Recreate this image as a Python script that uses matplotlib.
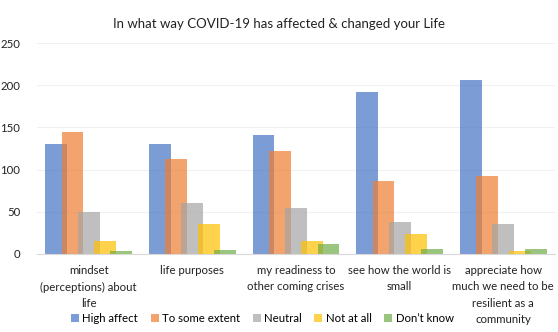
import numpy as np
import matplotlib
matplotlib.use('Agg')
import matplotlib.pyplot as plt

plt.rcParams['font.family'] = ['Lato', 'DejaVu Sans']

categories = ['mindset\n(perceptions) about\nlife', 'life purposes',
              'my readiness to\nother coming crises', 'see how the world is\nsmall',
              'appreciate how\nmuch we need to be\nresilient as a\ncommunity']
series = ['High affect', 'To some extent', 'Neutral', 'Not at all', 'Don\u2019t know']
high_affect = [131, 130, 141, 192, 206]
some_extent = [145, 113, 122, 86, 93]
neutral = [50, 61, 54, 38, 36]
not_at_all = [15, 36, 15, 24, 3]
dont_know = [3, 5, 12, 6, 6]
values = [high_affect, some_extent, neutral, not_at_all, dont_know]
colors = ['#4472C4', '#ED7D31', '#A5A5A5', '#FFC000', '#70AD47']

fig = plt.figure(figsize=(5.58, 3.32), dpi=100)
ax = fig.add_axes([0.066, 0.235, 0.929, 0.635])

x = np.arange(len(categories))
step = 0.157
width = 0.21
for i, (name, vals, c) in enumerate(zip(series, values, colors)):
    ax.bar(x + (i - 2) * step, vals, width, color=c, alpha=0.7, label=name, zorder=2)

ax.set_xlim(-0.5, len(categories) - 0.5)
ax.set_ylim(0, 250)
ax.set_yticks(np.arange(0, 251, 50))
ax.set_xticks(x)
ax.set_xticklabels(categories, fontsize=8.2, color='#222222', linespacing=1.6)
ax.tick_params(axis='x', length=0, colors='#222222', pad=8)
ax.tick_params(axis='y', length=0, labelsize=8.2, colors='#222222', pad=12)
ax.grid(axis='y', color='#f0f0f0', linewidth=0.8, zorder=0)
for s in ['top', 'right', 'left']:
    ax.spines[s].set_visible(False)
ax.spines['bottom'].set_color('#d9d9d9')

fig.suptitle('In what way COVID-19 has affected & changed your Life', y=0.945, fontsize=9.5, color='#222222')
fig.legend(loc='center', bbox_to_anchor=(0.47, 0.042), ncol=5, frameon=False, fontsize=8.2,
           handlelength=0.7, handleheight=0.7, handletextpad=0.3, columnspacing=1.1)

fig.savefig('out.png', dpi=100)
